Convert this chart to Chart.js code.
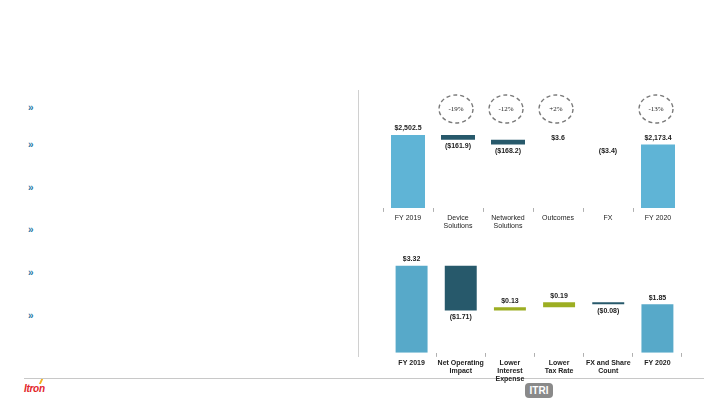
<!DOCTYPE html>
<html>
<head>
<meta charset="utf-8">
<script src="https://cdn.jsdelivr.net/npm/chart.js@4/dist/chart.umd.min.js"></script>
<style>
  body { margin: 0; background: #fff; font-family: "Liberation Sans", Arial, sans-serif; }
  #page { position: relative; width: 720px; height: 405px; overflow: hidden; background: #fff; }
  .bullet { position: absolute; left: 28px; font-size: 10px; font-weight: bold; color: #2878a6; }
  #vline { position: absolute; left: 358px; top: 90px; width: 1px; height: 267px; background: #d0d0d0; }
  #hline { position: absolute; left: 24px; top: 378px; width: 680px; height: 1px; background: #c8c8c8; }
  #logo { position: absolute; left: 24px; top: 383px; font: italic bold 10px "Liberation Sans", Arial, sans-serif; color: #e3262b; letter-spacing: -0.3px; }
  #logo span { position: absolute; left: 16px; top: -4px; width: 2px; height: 5px; background: #f2b01e; transform: skewX(-25deg); }
  #badge { position: absolute; left: 525px; top: 383px; width: 28px; height: 15px; border-radius: 4px; background: #8a8a8a; color: #fff; font: bold 10px "Liberation Sans", Arial, sans-serif; text-align: center; line-height: 15px; }
  #c1 { position: absolute; left: 383px; top: 82px; }
  #c2 { position: absolute; left: 387px; top: 250px; }
</style>
</head>
<body>
<div id="page">
  <div class="bullet" style="top:102px">»</div>
  <div class="bullet" style="top:139px">»</div>
  <div class="bullet" style="top:182px">»</div>
  <div class="bullet" style="top:224px">»</div>
  <div class="bullet" style="top:267px">»</div>
  <div class="bullet" style="top:310px">»</div>
  <div id="vline"></div>
  <div id="hline"></div>
  <div id="logo">Itron<span></span></div>
  <div id="badge">ITRI</div>
  <canvas id="c1" width="300" height="150"></canvas>
  <canvas id="c2" width="295" height="135"></canvas>
</div>
<script>
// revenue bridge ($M)
const revCategories = [['FY 2019'], ['Device', 'Solutions'], ['Networked', 'Solutions'], ['Outcomes'], ['FX'], ['FY 2020']];
const revValues = [2502.5, -161.9, -168.2, 3.6, -3.4, 2173.4];
const revIsTotal = [true, false, false, false, false, true];
const revLabels = ['$2,502.5', '($161.9)', '($168.2)', '$3.6', '($3.4)', '$2,173.4'];
const revChange = ['', '-19%', '-12%', '+2%', '', '-13%'];

// EPS bridge ($)
const epsCategories = [['FY 2019'], ['Net Operating', 'Impact'], ['Lower', 'Interest', 'Expense'], ['Lower', 'Tax Rate'], ['FX and Share', 'Count'], ['FY 2020']];
const epsValues = [3.32, -1.71, 0.13, 0.19, -0.08, 1.85];
const epsIsTotal = [true, false, false, false, false, true];
const epsLabels = ['$3.32', '($1.71)', '$0.13', '$0.19', '($0.08)', '$1.85'];

const DARK = '#27596b';
const GREEN = '#9cae22';

// turn values into floating [start, end] bars
function bridge(values, totals) {
  let run = 0;
  return values.map(function (v, i) {
    if (totals[i]) { run = v; return [0, v]; }
    const seg = [run, run + v];
    run += v;
    return seg;
  });
}

function barColors(values, totals, totalColor) {
  return values.map(function (v, i) {
    if (totals[i]) return totalColor;
    return v < 0 ? DARK : GREEN;
  });
}

const valueLabels = {
  id: 'valueLabels',
  afterDatasetsDraw(chart, args, opts) {
    const ctx = chart.ctx;
    const meta = chart.getDatasetMeta(0);
    ctx.save();
    ctx.font = 'bold 7px "Liberation Sans", Arial, sans-serif';
    ctx.fillStyle = '#222';
    ctx.textAlign = 'center';
    meta.data.forEach(function (bar, i) {
      const top = Math.min(bar.y, bar.base);
      const bottom = Math.max(bar.y, bar.base);
      if (opts.values[i] < 0) {
        ctx.textBaseline = 'top';
        ctx.fillText(opts.labels[i], bar.x, bottom + 3);
      } else {
        ctx.textBaseline = 'bottom';
        ctx.fillText(opts.labels[i], bar.x, top - 3);
      }
    });
    ctx.restore();
  }
};

const changeBubbles = {
  id: 'changeBubbles',
  afterDatasetsDraw(chart, args, opts) {
    if (!opts.texts) return;
    const ctx = chart.ctx;
    const x = chart.scales.x;
    ctx.save();
    opts.texts.forEach(function (t, i) {
      if (!t) return;
      const cx = x.getPixelForValue(i) - 2;
      const cy = 27;
      ctx.beginPath();
      ctx.setLineDash([4, 3]);
      ctx.lineWidth = 1.4;
      ctx.strokeStyle = '#7a7a7a';
      ctx.ellipse(cx, cy, 17, 14, 0, 0, Math.PI * 2);
      ctx.stroke();
      ctx.setLineDash([]);
      ctx.fillStyle = '#222';
      ctx.font = '7px "Liberation Serif", serif';
      ctx.textAlign = 'center';
      ctx.textBaseline = 'middle';
      ctx.fillText(t, cx, cy);
    });
    ctx.restore();
  }
};

function makeChart(id, cats, values, totals, labels, yMax, barPct, totalColor, bold, texts) {
  return new Chart(document.getElementById(id), {
    type: 'bar',
    data: {
      labels: cats,
      datasets: [{
        data: bridge(values, totals),
        backgroundColor: barColors(values, totals, totalColor),
        borderSkipped: false,
        categoryPercentage: 1,
        barPercentage: barPct
      }]
    },
    options: {
      responsive: false,
      animation: false,
      layout: { padding: 0 },
      plugins: {
        legend: { display: false },
        tooltip: { enabled: false },
        valueLabels: { values: values, labels: labels },
        changeBubbles: { texts: texts }
      },
      scales: {
        x: {
          grid: { display: true, drawOnChartArea: false, tickLength: 4, color: '#b0b0b0', offset: true },
          border: { display: false },
          ticks: {
            color: '#222',
            padding: 2,
            maxRotation: 0,
            autoSkip: false,
            font: { size: 7, weight: bold ? 'bold' : 'normal', family: '"Liberation Sans", Arial, sans-serif', lineHeight: 1.15 }
          }
        },
        y: { display: false, min: 0, max: yMax }
      }
    },
    plugins: [valueLabels, changeBubbles]
  });
}

makeChart('c1', revCategories, revValues, revIsTotal, revLabels, 4319, 0.68, '#5fb4d6', false, revChange);
makeChart('c2', epsCategories, epsValues, epsIsTotal, epsLabels, 3.92, 0.65, '#57a9c9', true, null);
</script>
</body>
</html>
